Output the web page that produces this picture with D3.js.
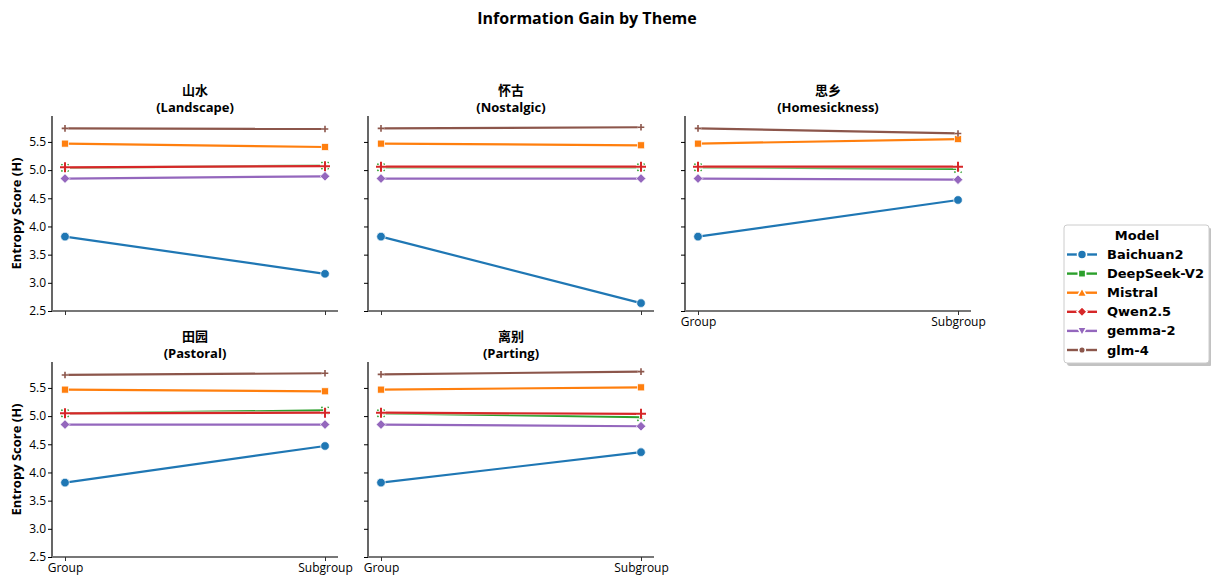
<!DOCTYPE html>
<html><head><meta charset="utf-8">
<script src="https://cdn.jsdelivr.net/npm/d3@7"></script>
<style>body{margin:0;background:#fff}svg{display:block}</style>
</head><body><svg id="c" width="1211" height="576"></svg>
<script>
const xCats = ["Group", "Subgroup"];
const models = ["Baichuan2", "DeepSeek-V2", "Mistral", "Qwen2.5", "gemma-2", "glm-4"];
const colors = ["#1f77b4", "#2ca02c", "#ff7f0e", "#d62728", "#9467bd", "#8c564b"];
const themesZh = ["山水", "怀古", "思乡", "田园", "离别"];
const themesEn = ["(Landscape)", "(Nostalgic)", "(Homesickness)", "(Pastoral)", "(Parting)"];
const yTicks = [2.5, 3.0, 3.5, 4.0, 4.5, 5.0, 5.5];
// values per model: [theme][Group, Subgroup]
const baichuan2 = [[3.82, 3.16], [3.82, 2.64], [3.82, 4.47], [3.82, 4.47], [3.82, 4.36]];
const deepseek  = [[5.04, 5.08], [5.05, 5.05], [5.05, 5.02], [5.05, 5.10], [5.05, 4.98]];
const mistral   = [[5.47, 5.41], [5.47, 5.44], [5.47, 5.55], [5.47, 5.44], [5.47, 5.51]];
const qwen      = [[5.05, 5.07], [5.06, 5.06], [5.06, 5.06], [5.05, 5.06], [5.06, 5.04]];
const gemma     = [[4.85, 4.89], [4.85, 4.85], [4.85, 4.83], [4.85, 4.85], [4.85, 4.82]];
const glm       = [[5.74, 5.73], [5.74, 5.76], [5.74, 5.65], [5.73, 5.76], [5.74, 5.79]];
const seriesVals = [baichuan2, deepseek, mistral, qwen, gemma, glm];
const plotMarkers = ["circle", "x", "square", "plus", "diamond", "smallplus"];
const legendMarkers = ["circle", "square", "triangle", "diamond", "triangledown", "circlesmall"];

const svg = d3.select("#c");
const FONT = "'Open Sans', 'Noto Sans CJK SC', sans-serif";

svg.append("text").attr("x", 587).attr("y", 24).attr("text-anchor", "middle")
  .attr("font-family", FONT).attr("font-weight", "bold").attr("font-size", 16)
  .text("Information Gain by Theme");

const colX = [52, 368, 685];
const rowY = [116, 362];
const W = 286, H = 195;

function drawMarker(g, type, x, y, color, scale, edge) {
  scale = scale || 1;
  edge = edge || 0.7;
  if (type === "circle") {
    g.append("circle").attr("cx", x).attr("cy", y).attr("r", 4.3 * scale)
      .attr("fill", color).attr("stroke", "#fff").attr("stroke-width", edge);
  } else if (type === "circlesmall") {
    g.append("circle").attr("cx", x).attr("cy", y).attr("r", 3.2 * scale)
      .attr("fill", color).attr("stroke", "#fff").attr("stroke-width", edge);
  } else if (type === "square") {
    const s = 7 * scale;
    g.append("rect").attr("x", x - s / 2).attr("y", y - s / 2).attr("width", s).attr("height", s)
      .attr("fill", color).attr("stroke", "#fff").attr("stroke-width", edge);
  } else if (type === "diamond") {
    const s = 4.8 * scale;
    g.append("path").attr("d", `M${x},${y - s}L${x + s},${y}L${x},${y + s}L${x - s},${y}Z`)
      .attr("fill", color).attr("stroke", "#fff").attr("stroke-width", edge);
  } else if (type === "triangle") {
    const s = 4.5 * scale;
    g.append("path").attr("d", `M${x},${y - s}L${x + s},${y + s * 0.8}L${x - s},${y + s * 0.8}Z`)
      .attr("fill", color).attr("stroke", "#fff").attr("stroke-width", edge);
  } else if (type === "triangledown") {
    const s = 4.5 * scale;
    g.append("path").attr("d", `M${x},${y + s}L${x + s},${y - s * 0.8}L${x - s},${y - s * 0.8}Z`)
      .attr("fill", color).attr("stroke", "#fff").attr("stroke-width", edge);
  } else if (type === "plus") {
    const s = 5;
    g.append("path").attr("d", `M${x - s},${y}H${x + s}M${x},${y - s}V${y + s}`)
      .attr("stroke", "#fff").attr("stroke-width", 3.6).attr("fill", "none");
    g.append("path").attr("d", `M${x - s},${y}H${x + s}M${x},${y - s}V${y + s}`)
      .attr("stroke", color).attr("stroke-width", 2).attr("fill", "none");
  } else if (type === "smallplus") {
    const s = 3.3;
    g.append("path").attr("d", `M${x - s},${y}H${x + s}M${x},${y - s}V${y + s}`)
      .attr("stroke", "#fff").attr("stroke-width", 2.8).attr("fill", "none");
    g.append("path").attr("d", `M${x - s},${y}H${x + s}M${x},${y - s}V${y + s}`)
      .attr("stroke", color).attr("stroke-width", 1.6).attr("fill", "none");
  } else if (type === "x") {
    const s = 3.6;
    g.append("path").attr("d", `M${x - s},${y - s}L${x + s},${y + s}M${x - s},${y + s}L${x + s},${y - s}`)
      .attr("stroke", color).attr("stroke-width", 1.6).attr("fill", "none").attr("stroke-dasharray", "1.5,1.5");
  }
}

for (let t = 0; t < 5; t++) {
  const row = t < 3 ? 0 : 1, col = t < 3 ? t : t - 3;
  const ox = colX[col], oy = rowY[row];
  const g = svg.append("g").attr("transform", `translate(${ox},${oy})`);
  const xs = d3.scaleLinear().domain([-0.05, 1.05]).range([0, W]);
  const xPos = c => xs(xCats.indexOf(c));
  const y = d3.scaleLinear().domain([2.5, 5.96]).range([H, 0]);

  // title (two lines)
  g.append("text").attr("x", W / 2).attr("y", -21).attr("text-anchor", "middle")
    .attr("font-family", "'Noto Sans CJK SC', sans-serif").attr("font-weight", "bold").attr("font-size", 13)
    .text(themesZh[t]);
  g.append("text").attr("x", W / 2).attr("y", -4).attr("text-anchor", "middle")
    .attr("font-family", FONT).attr("font-weight", "bold").attr("font-size", 13)
    .text(themesEn[t]);

  // lines
  seriesVals.forEach((sv, i) => {
    const vals = sv[t];
    const pts = xCats.map((c, j) => [xPos(c), y(vals[j])]);
    g.append("path").attr("d", d3.line()(pts)).attr("fill", "none")
      .attr("stroke", "#fff").attr("stroke-opacity", 0.6).attr("stroke-width", 3.6);
    g.append("path").attr("d", d3.line()(pts)).attr("fill", "none")
      .attr("stroke", colors[i]).attr("stroke-width", 2.2);
  });
  seriesVals.forEach((sv, i) => {
    const vals = sv[t];
    xCats.forEach((c, j) => drawMarker(g, plotMarkers[i], xPos(c), y(vals[j]), colors[i]));
  });

  // y axis
  const yAx = d3.axisLeft(y).tickValues(yTicks).tickSize(4).tickFormat(col === 0 ? d3.format(".1f") : "");
  const ya = g.append("g").call(yAx);
  ya.select(".domain").attr("stroke", "#000").attr("stroke-width", 1.2).attr("d", `M0,0V${H}`);
  ya.selectAll(".tick line").attr("stroke", "#000").attr("stroke-width", 1);
  ya.selectAll(".tick text").attr("font-family", FONT).attr("font-size", 12).attr("fill", "#000").attr("x", -6);

  // x axis
  const xa = g.append("g").attr("transform", `translate(0,${H})`)
    .call(d3.axisBottom(xs).tickValues([0, 1]).tickSize(4)
      .tickFormat(d => (t >= 2 ? xCats[d] : "")));
  xa.select(".domain").attr("stroke", "#777").attr("stroke-width", 1.8).attr("d", `M0,0H${W}`);
  xa.selectAll(".tick line").attr("stroke", "#333").attr("stroke-width", 1);
  xa.selectAll(".tick text").attr("font-family", FONT).attr("font-size", 12).attr("fill", "#000").attr("y", 6);

  if (col === 0) {
    g.append("text").attr("transform", `translate(-31,${H / 2}) rotate(-90)`)
      .attr("text-anchor", "middle").attr("font-family", FONT).attr("font-weight", "bold").attr("font-size", 13)
      .text("Entropy Score (H)");
  }
}

// legend
const lg = svg.append("g").attr("transform", "translate(1064,225)");
lg.append("rect").attr("x", 3).attr("y", 3).attr("width", 145).attr("height", 138).attr("rx", 3)
  .attr("fill", "#999").attr("opacity", 0.6);
lg.append("rect").attr("x", 0).attr("y", 0).attr("width", 145).attr("height", 138).attr("rx", 3)
  .attr("fill", "#fff").attr("stroke", "#ccc").attr("stroke-width", 1);
lg.append("text").attr("x", 73).attr("y", 15).attr("text-anchor", "middle")
  .attr("font-family", "'DejaVu Sans', sans-serif").attr("font-weight", "bold").attr("font-size", 13)
  .text("Model");
models.forEach((m, i) => {
  const yy = 29.5 + i * 19.1;
  lg.append("path").attr("d", `M3,${yy}H33`).attr("stroke", colors[i]).attr("stroke-width", 2.4);
  drawMarker(lg, legendMarkers[i], 18, yy, colors[i], 1.05, 1.6);
  lg.append("text").attr("x", 43).attr("y", yy + 4.5)
    .attr("font-family", "'DejaVu Sans', sans-serif").attr("font-weight", "bold").attr("font-size", 13)
    .text(m);
});
</script></body></html>
